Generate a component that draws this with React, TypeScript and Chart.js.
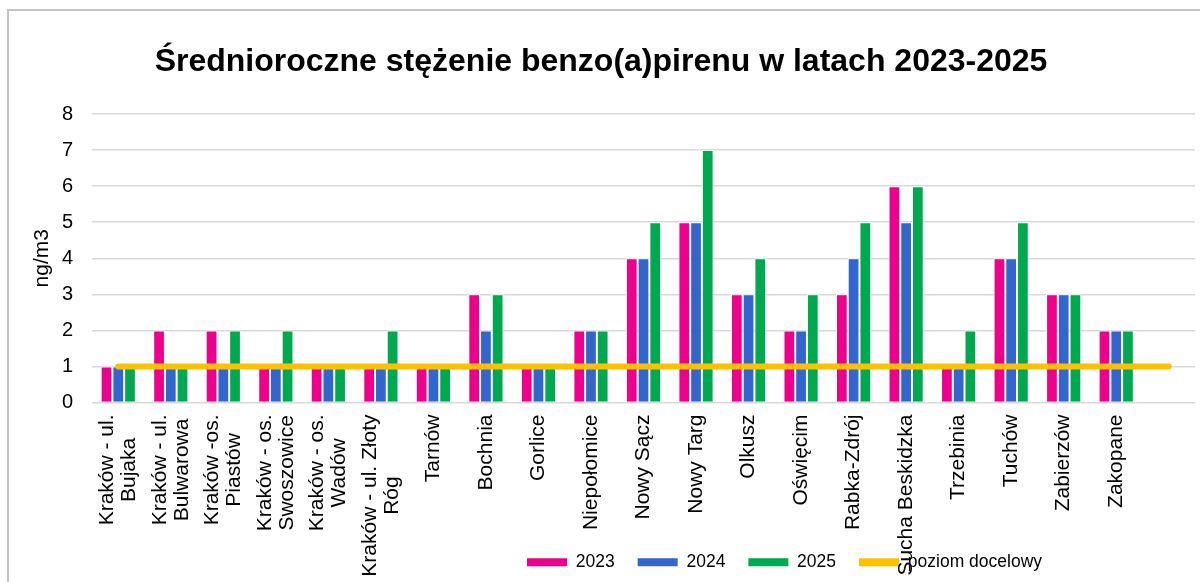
import React, { useEffect, useRef } from "react";
import { Chart, registerables } from "chart.js";

Chart.register(...registerables);

const stations: string[][] = [
  ["Kraków - ul.", "Bujaka"],
  ["Kraków - ul.", "Bulwarowa"],
  ["Kraków -os.", "Piastów"],
  ["Kraków - os.", "Swoszowice"],
  ["Kraków - os.", "Wadów"],
  ["Kraków - ul. Złoty", "Róg"],
  ["Tarnów"],
  ["Bochnia"],
  ["Gorlice"],
  ["Niepołomice"],
  ["Nowy Sącz"],
  ["Nowy Targ"],
  ["Olkusz"],
  ["Oświęcim"],
  ["Rabka-Zdrój"],
  ["Sucha Beskidzka"],
  ["Trzebinia"],
  ["Tuchów"],
  ["Zabierzów"],
  ["Zakopane"],
  [""],
];

const values2023 = [1, 2, 2, 1, 1, 1, 1, 3, 1, 2, 4, 5, 3, 2, 3, 6, 1, 4, 3, 2];
const values2024 = [1, 1, 1, 1, 1, 1, 1, 2, 1, 2, 4, 5, 3, 2, 4, 5, 1, 4, 3, 2];
const values2025 = [1, 1, 2, 2, 1, 2, 1, 3, 1, 2, 5, 7, 4, 3, 5, 6, 2, 5, 3, 2];
const targetLevel = [1, 1, 1, 1, 1, 1, 1, 1, 1, 1, 1, 1, 1, 1, 1, 1, 1, 1, 1, 1, 1];

const seriesNames = ["2023", "2024", "2025", "poziom docelowy"];
const titleText = "Średnioroczne stężenie benzo(a)pirenu w latach 2023-2025";
const yAxisTitle = "ng/m3";

const FONT = '"Liberation Sans", Arial, sans-serif';

const xLabelPlugin = {
  id: "xLabels",
  afterDraw(chart: any) {
    const scale = chart.scales.x;
    const ctx = chart.ctx;
    ctx.save();
    ctx.font = `21px ${FONT}`;
    ctx.fillStyle = "#000";
    ctx.textBaseline = "middle";
    ctx.textAlign = "center";
    const lh = 22;
    stations.forEach((lines, i) => {
      const x = scale.getPixelForTick(i);
      const top = scale.top + 12;
      const maxW = Math.max(...lines.map((l) => ctx.measureText(l).width));
      lines.forEach((line, j) => {
        const cx = x + (j - (lines.length - 1) / 2) * lh;
        ctx.save();
        ctx.translate(cx, top + maxW / 2);
        ctx.rotate(-Math.PI / 2);
        ctx.fillText(line, 0, 0);
        ctx.restore();
      });
    });
    ctx.restore();
  },
};

const layoutTweaks = {
  id: "layoutTweaks",
  afterLayout(chart: any) {
    const lg = chart.legend;
    if (lg) {
      const pad = lg.options.labels.padding;
      lg.left = 518 - pad;
      lg.width = lg.right - lg.left;
    }
    const tb = chart.titleBlock;
    if (tb) {
      tb.left = 0;
      tb.right = chart.width - 7;
      tb.width = tb.right - tb.left;
    }
  },
};

export default function App() {
  const ref = useRef<HTMLCanvasElement | null>(null);

  useEffect(() => {
    if (!ref.current) return;
    const defaultGen = (Chart.defaults as any).plugins.legend.labels.generateLabels;
    const chart = new Chart(ref.current, {
      type: "bar",
      data: {
        labels: stations.map((l) => l.join(" ")),
        datasets: [
          {
            label: seriesNames[0],
            data: values2023,
            backgroundColor: "#EC008C",
            borderColor: "#ffffff",
            borderWidth: 1,
          },
          {
            label: seriesNames[1],
            data: values2024,
            backgroundColor: "#3366CC",
            borderColor: "#ffffff",
            borderWidth: 1,
          },
          {
            label: seriesNames[2],
            data: values2025,
            backgroundColor: "#00A94F",
            borderColor: "#ffffff",
            borderWidth: 1,
          },
          {
            type: "line",
            label: seriesNames[3],
            data: targetLevel,
            borderColor: "#FFC000",
            backgroundColor: "#FFC000",
            borderWidth: 6,
            pointRadius: 0,
            borderCapStyle: "round",
            order: -1,
          } as any,
        ],
      },
      options: {
        animation: false,
        responsive: false,
        maintainAspectRatio: false,
        datasets: {
          bar: { categoryPercentage: 0.67, barPercentage: 1 },
        } as any,
        layout: { padding: { left: 20, right: 5, top: 0, bottom: 1 } },
        plugins: {
          title: {
            display: true,
            text: titleText,
            color: "#000",
            font: { family: FONT, size: 32, weight: "bold" },
            padding: { top: 32, bottom: 32.6 },
          },
          legend: {
            position: "bottom",
            align: "start",
            labels: {
              color: "#000",
              font: { family: FONT, size: 17.5 },
              boxWidth: 40,
              boxHeight: 8,
              padding: 23,
              generateLabels(c: any) {
                const items = defaultGen(c);
                items.sort((a: any, b: any) => a.datasetIndex - b.datasetIndex);
                items.forEach((it: any) => {
                  it.lineWidth = 0;
                  if (it.datasetIndex === 3) {
                    it.fillStyle = "#FFC000";
                  }
                });
                return items;
              },
            },
          },
          tooltip: { enabled: false },
        },
        scales: {
          x: {
            grid: { display: false },
            border: { display: false },
            ticks: { display: false },
            afterFit(scale: any) {
              scale.height = 128;
            },
          },
          y: {
            min: 0,
            max: 8,
            ticks: {
              stepSize: 1,
              color: "#000",
              font: { family: FONT, size: 20 },
              padding: 19,
            },
            grid: { color: "#d9d9d9", lineWidth: 1.5, drawTicks: false },
            border: { display: false },
            title: {
              display: true,
              text: yAxisTitle,
              color: "#000",
              font: { family: FONT, size: 21 },
              padding: { top: 0.5, bottom: 4 },
            },
            afterFit(scale: any) {
              scale.width = 63;
            },
          },
        },
      },
      plugins: [xLabelPlugin, layoutTweaks],
    });
    return () => chart.destroy();
  }, []);

  return (
    <div
      style={{
        position: "absolute",
        left: 7,
        top: 9,
        width: 1193,
        height: 573,
        borderTop: "2px solid #c4c4c4",
        borderLeft: "2px solid #c4c4c4",
        boxSizing: "border-box",
        background: "#fff",
        overflow: "hidden",
      }}
    >
      <canvas ref={ref} width={1191} height={571} style={{ display: "block" }} />
    </div>
  );
}
